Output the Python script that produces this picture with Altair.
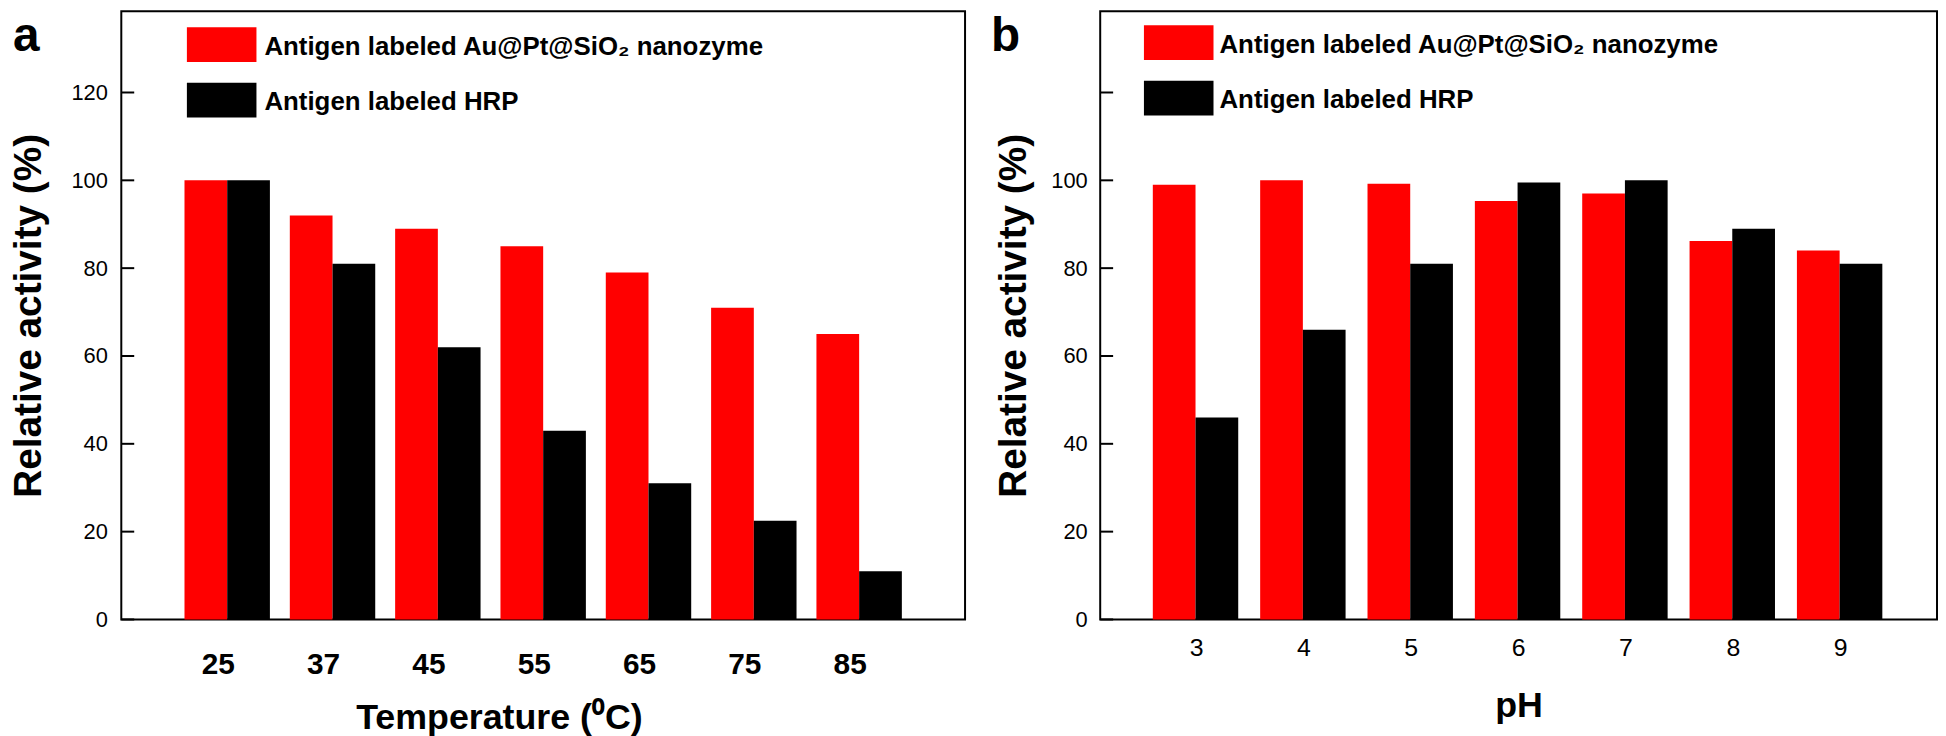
import altair as alt
import pandas as pd

# ---- data ----
temps = ["25", "37", "45", "55", "65", "75", "85"]
nano_temp = [100, 92, 89, 85, 79, 71, 65]
hrp_temp = [100, 81, 62, 43, 31, 22.5, 11]

phs = ["3", "4", "5", "6", "7", "8", "9"]
nano_ph = [99, 100, 99.2, 95.3, 97, 86.2, 84]
hrp_ph = [46, 66, 81, 99.5, 100, 89, 81]

series = ["Antigen labeled Au@Pt@SiO\u2082 nanozyme", "Antigen labeled HRP"]
colors = ["#ff0000", "#000000"]
tick_vals = [0, 20, 40, 60, 80, 100, 120]
labels_a = [0, 20, 40, 60, 80, 100, 120]
labels_b = [0, 20, 40, 60, 80, 100]

FONT = "Liberation Sans"
YMAX = 138.5
H = 612


def panel(cats, v1, v2, letter, xtitle, width, pin, pout, ylabels, xaxis_kw,
          ytp, ylp, leg_x, leg_tops, leg_text_x, leg_base, letter_x):
    df = pd.DataFrame({
        "cat": cats * 2,
        "series": [series[0]] * len(cats) + [series[1]] * len(cats),
        "value": v1 + v2,
    })
    yscale = alt.Scale(domain=[0, YMAX], nice=False, zero=True)
    yaxis = alt.Axis(title="Relative activity (%)", values=ylabels,
                     ticks=False, tickSize=0, domain=False, grid=False,
                     labelFont=FONT, labelFontSize=22, labelColor="black",
                     labelPadding=ylp, titleFont=FONT, titleFontSize=39,
                     titleFontWeight="bold", titleColor="black",
                     titlePadding=ytp)
    bars = alt.Chart(df).mark_bar().encode(
        x=alt.X("cat:N", sort=cats,
                scale=alt.Scale(paddingInner=pin, paddingOuter=pout),
                axis=alt.Axis(title=xtitle, labelAngle=0, ticks=False, tickSize=0,
                              domain=False, grid=False, labelColor="black",
                              labelFont=FONT, titleFont=FONT, titleFontWeight="bold",
                              titleFontSize=36, titleColor="black", **xaxis_kw)),
        xOffset=alt.XOffset("series:N", sort=series,
                            scale=alt.Scale(paddingInner=0, paddingOuter=0)),
        y=alt.Y("value:Q", scale=yscale, axis=yaxis),
        color=alt.Color("series:N", scale=alt.Scale(domain=series, range=colors),
                        legend=None),
    )
    ticks = alt.Chart(pd.DataFrame({"value": tick_vals})).mark_rule(
        color="black", strokeWidth=2
    ).encode(
        y=alt.Y("value:Q", scale=yscale, axis=yaxis),
        x=alt.value(0), x2=alt.value(13),
    )
    layers = [bars, ticks]
    for i, s in enumerate(series):
        d = pd.DataFrame({"label": [s]})
        sw = alt.Chart(d).mark_rect(color=colors[i]).encode(
            x=alt.value(leg_x), x2=alt.value(leg_x + 70),
            y=alt.value(leg_tops[i]), y2=alt.value(leg_tops[i] + 35),
        )
        tx = alt.Chart(d).mark_text(
            font=FONT, fontWeight="bold", fontSize=26, align="left",
            baseline="alphabetic", color="black"
        ).encode(
            text="label:N", x=alt.value(leg_text_x), y=alt.value(leg_base[i])
        )
        layers += [sw, tx]
    let = alt.Chart(pd.DataFrame({"l": [letter]})).mark_text(
        font=FONT, fontWeight="bold", fontSize=48, align="left",
        baseline="alphabetic", color="black"
    ).encode(text="l:N", x=alt.value(letter_x), y=alt.value(40))
    layers.append(let)
    return alt.layer(*layers).properties(width=width, height=H)


pa = panel(temps, nano_temp, hrp_temp, "a", "Temperature (\u2070C)", 849, 0.189, 0.6,
           labels_a,
           dict(labelFontSize=30, labelFontWeight="bold", labelPadding=30, labelOffset=-9,
                titlePadding=21.6, titleX=380, titleAlign="center"),
           ytp=22.8, ylp=14, leg_x=66, leg_tops=[16, 72], leg_text_x=144,
           leg_base=[44, 99], letter_x=-109)

pb = panel(phs, nano_ph, hrp_ph, "b", "pH", 842, 0.185, 0.49,
           labels_b,
           dict(labelFontSize=25, labelFontWeight="normal", labelPadding=16,
                titlePadding=29),
           ytp=17.8, ylp=13, leg_x=44, leg_tops=[14, 70], leg_text_x=120,
           leg_base=[42, 97], letter_x=-110)

chart = alt.hconcat(pa, pb, spacing=24).properties(
    padding={"left": 0, "top": 0, "right": 0, "bottom": 0}
).configure_view(stroke="black", strokeWidth=2)

chart.save("out.html", embed_options={"renderer": "svg", "actions": False})
